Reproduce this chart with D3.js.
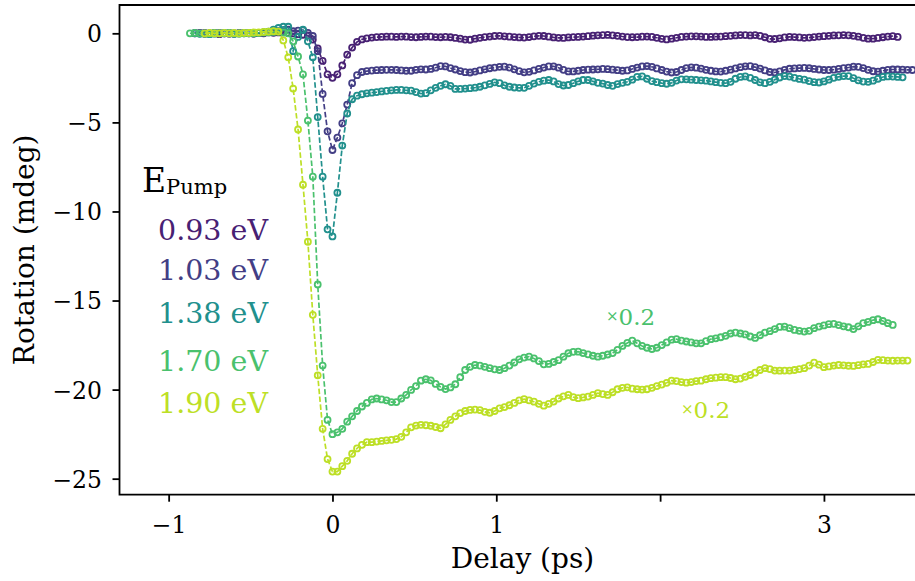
<!DOCTYPE html>
<html>
<head>
<meta charset="utf-8">
<script src="https://cdnjs.cloudflare.com/ajax/libs/d3/7.8.5/d3.min.js"></script>
<style>
  body { margin: 0; background: #fff; }
  svg { display: block; }
</style>
</head>
<body>
<svg></svg>
<script>
// pump-probe delay (ps), shared by every trace
let delays = [
  -0.87, -0.84, -0.81, -0.78, -0.75, -0.72, -0.69, -0.66, -0.63, -0.60,
  -0.57, -0.54, -0.51, -0.48, -0.45, -0.42, -0.39, -0.36, -0.33,
  -0.30, -0.27, -0.24, -0.21, -0.18, -0.15, -0.12, -0.09, -0.06, -0.03,
  0.00, 0.03, 0.06, 0.09, 0.12, 0.15,
  0.18, 0.21, 0.24, 0.27, 0.30, 0.33, 0.36, 0.39, 0.42, 0.45,
  0.48, 0.51, 0.54, 0.57, 0.60, 0.63, 0.66, 0.69, 0.72, 0.75,
  0.78, 0.81, 0.84, 0.87, 0.90, 0.93, 0.96, 0.99, 1.02, 1.05,
  1.08, 1.11, 1.14, 1.17, 1.20, 1.23, 1.26, 1.29, 1.32, 1.35,
  1.38, 1.41, 1.44, 1.47, 1.50, 1.53, 1.56, 1.59, 1.62, 1.65,
  1.68, 1.71, 1.74, 1.77, 1.80, 1.83, 1.86, 1.89, 1.92, 1.95,
  1.98, 2.01, 2.04, 2.07, 2.10, 2.13, 2.16, 2.19, 2.22, 2.25,
  2.28, 2.31, 2.34, 2.37, 2.40, 2.43, 2.46, 2.49, 2.52, 2.55,
  2.58, 2.61, 2.64, 2.67, 2.70, 2.73, 2.76, 2.79, 2.82, 2.85,
  2.88, 2.91, 2.94, 2.97, 3.00, 3.03, 3.06, 3.09, 3.12, 3.15,
  3.18, 3.21, 3.24, 3.27, 3.30, 3.33, 3.36, 3.39, 3.42, 3.45,
  3.48, 3.51, 3.54
]

// rotation (mdeg); 1.70 and 1.90 eV traces are already multiplied by 0.2
let rot093 = [
  null, 0.00, 0.02, -0.03, 0.00, 0.03, -0.05, 0.00, 0.02, -0.02,
  0.00, 0.03, 0.00, -0.02, 0.02, 0.00, 0.05, 0.03, 0.05,
  0.05, 0.02, 0.00, -0.05, -0.08, -0.12, -0.35, -0.85, -1.55, -2.30,
  -2.50, -2.30, -1.80, -1.20, -0.80, -0.48,
  -0.34, -0.28, -0.24, -0.21, -0.20, -0.19, -0.19, -0.20, -0.18, -0.19,
  -0.21, -0.22, -0.20, -0.18, -0.19, -0.21, -0.22, -0.20, -0.22, -0.26,
  -0.30, -0.35, -0.36, -0.30, -0.25, -0.21, -0.18, -0.15, -0.14, -0.17,
  -0.19, -0.21, -0.23, -0.24, -0.21, -0.17, -0.14, -0.15, -0.19, -0.23,
  -0.25, -0.26, -0.23, -0.21, -0.20, -0.18, -0.16, -0.13, -0.11, -0.10,
  -0.09, -0.11, -0.14, -0.18, -0.21, -0.22, -0.21, -0.19, -0.18, -0.20,
  -0.25, -0.31, -0.34, -0.30, -0.25, -0.20, -0.18, -0.17, -0.17, -0.18,
  -0.20, -0.20, -0.19, -0.18, -0.16, -0.14, -0.12, -0.10, -0.10, -0.12,
  -0.10, -0.14, -0.22, -0.31, -0.32, -0.28, -0.23, -0.20, -0.21, -0.23,
  -0.25, -0.24, -0.21, -0.18, -0.16, -0.14, -0.12, -0.11, -0.10, -0.11,
  -0.14, -0.19, -0.25, -0.30, -0.30, -0.26, -0.22, -0.18, -0.16, -0.20,
  null, null, null
]
let rot103 = [
  null, 0.02, 0.00, 0.03, -0.02, 0.00, 0.02, 0.00, -0.03, 0.00,
  0.02, 0.00, 0.03, 0.00, 0.02, 0.05, 0.08, 0.10, 0.12,
  0.12, 0.20, 0.12, 0.15, 0.18, 0.02, -0.15, -1.00, -3.40, -5.50,
  -6.55, -5.85, -5.05, -4.00, -2.80, -2.35,
  -2.17, -2.12, -2.09, -2.07, -2.06, -2.05, -2.05, -2.06, -2.08, -2.10,
  -2.10, -2.05, -2.02, -2.03, -2.00, -1.93, -1.84, -1.86, -1.95, -2.03,
  -2.12, -2.18, -2.20, -2.15, -2.08, -2.02, -1.96, -1.92, -1.88, -1.87,
  -1.92, -2.02, -2.12, -2.19, -2.16, -2.08, -2.00, -1.92, -1.86, -1.85,
  -1.93, -2.05, -2.14, -2.14, -2.10, -2.06, -2.04, -2.03, -2.02, -2.00,
  -2.01, -2.04, -2.07, -2.10, -2.08, -2.00, -1.92, -1.86, -1.84, -1.88,
  -1.97, -2.06, -2.15, -2.20, -2.17, -2.06, -1.95, -1.91, -1.93, -1.98,
  -2.05, -2.10, -2.14, -2.15, -2.10, -2.04, -1.97, -1.90, -1.85, -1.84,
  -1.90, -1.98, -2.08, -2.17, -2.20, -2.14, -2.05, -1.99, -1.97, -1.95,
  -1.94, -1.96, -2.00, -2.03, -2.06, -2.06, -2.04, -2.00, -1.95, -1.92,
  -1.87, -1.88, -1.95, -2.05, -2.13, -2.15, -2.10, -2.05, -2.03, -2.03,
  -2.04, -2.05, -2.06
]
let rot138 = [
  null, 0.00, -0.03, 0.00, -0.05, -0.02, 0.00, 0.02, 0.00, -0.03,
  0.00, 0.02, 0.00, 0.00, 0.03, 0.05, 0.10, 0.20, 0.30,
  0.37, 0.37, -1.00, -0.20, 0.20, -0.45, -1.35, -4.70, -8.05, -11.00,
  -11.40, -8.95, -6.30, -4.50, -3.70, -3.50,
  -3.42, -3.37, -3.33, -3.30, -3.26, -3.23, -3.20, -3.18, -3.18, -3.20,
  -3.22, -3.30, -3.38, -3.36, -3.20, -3.06, -2.95, -2.86, -2.95, -3.12,
  -3.12, -3.10, -3.08, -3.05, -3.00, -2.92, -2.84, -2.75, -2.80, -2.92,
  -3.00, -3.04, -3.06, -3.06, -2.95, -2.82, -2.72, -2.66, -2.62, -2.70,
  -2.85, -2.93, -2.90, -2.80, -2.70, -2.62, -2.62, -2.70, -2.78, -2.82,
  -2.90, -2.95, -2.85, -2.78, -2.72, -2.60, -2.45, -2.42, -2.55, -2.68,
  -2.74, -2.80, -2.83, -2.78, -2.65, -2.58, -2.58, -2.60, -2.62, -2.64,
  -2.66, -2.70, -2.74, -2.78, -2.80, -2.72, -2.55, -2.45, -2.42, -2.50,
  -2.62, -2.75, -2.80, -2.72, -2.60, -2.48, -2.40, -2.43, -2.50, -2.56,
  -2.60, -2.68, -2.74, -2.76, -2.70, -2.60, -2.50, -2.44, -2.40, -2.40,
  -2.52, -2.64, -2.71, -2.72, -2.66, -2.55, -2.45, -2.42, -2.43, -2.45,
  -2.47, null, null
]
let rot170 = [
  0.00, 0.02, 0.00, -0.02, 0.00, 0.02, 0.00, 0.00, 0.03, 0.00,
  -0.02, 0.00, 0.02, 0.00, 0.03, 0.05, 0.06, 0.08, 0.10,
  0.05, 0.00, -0.45, -1.30, -2.30, -4.90, -8.05, -14.10, -18.65, -21.70,
  -22.50, -22.40, -22.20, -21.80, -21.50, -21.20,
  -20.95, -20.75, -20.55, -20.50, -20.55, -20.60, -20.70, -20.70, -20.50, -20.30,
  -20.02, -19.80, -19.50, -19.42, -19.48, -19.68, -19.85, -19.97, -19.88, -19.70,
  -19.30, -18.90, -18.72, -18.62, -18.65, -18.72, -18.80, -18.86, -18.90, -18.80,
  -18.65, -18.48, -18.30, -18.20, -18.15, -18.25, -18.40, -18.58, -18.56, -18.45,
  -18.35, -18.15, -17.96, -17.88, -17.87, -17.95, -18.02, -18.10, -18.15, -18.10,
  -18.03, -17.95, -17.77, -17.55, -17.38, -17.25, -17.40, -17.55, -17.65, -17.72,
  -17.65, -17.50, -17.35, -17.20, -17.17, -17.25, -17.30, -17.35, -17.40, -17.40,
  -17.28, -17.17, -17.12, -17.06, -16.98, -16.85, -16.80, -16.85, -16.90, -17.02,
  -17.10, -16.95, -16.80, -16.72, -16.60, -16.48, -16.47, -16.55, -16.65, -16.70,
  -16.74, -16.70, -16.55, -16.46, -16.40, -16.33, -16.31, -16.38, -16.45, -16.50,
  -16.60, -16.45, -16.27, -16.20, -16.10, -16.05, -16.15, -16.27, -16.37, null,
  null, null, null
]
let rot190 = [
  null, null, null, 0.00, 0.02, 0.00, 0.00, 0.03, 0.00, 0.02,
  0.00, 0.03, 0.02, 0.05, 0.05, 0.08, 0.10, 0.12, 0.10,
  -0.40, -1.35, -3.10, -5.40, -8.50, -11.70, -15.80, -19.20, -22.20, -23.90,
  -24.60, -24.60, -24.30, -24.00, -23.60, -23.30,
  -23.10, -22.95, -22.95, -22.92, -22.88, -22.85, -22.82, -22.78, -22.65, -22.40,
  -22.12, -22.02, -21.98, -22.00, -22.03, -22.10, -22.17, -21.95, -21.70, -21.50,
  -21.32, -21.20, -21.14, -21.12, -21.15, -21.25, -21.30, -21.20, -21.05, -20.98,
  -20.88, -20.75, -20.60, -20.54, -20.60, -20.68, -20.80, -20.90, -20.80, -20.67,
  -20.50, -20.38, -20.30, -20.42, -20.48, -20.44, -20.39, -20.30, -20.20, -20.25,
  -20.30, -20.15, -19.98, -19.90, -19.87, -19.95, -19.98, -20.00, -19.98, -19.90,
  -19.80, -19.72, -19.62, -19.50, -19.52, -19.58, -19.61, -19.58, -19.52, -19.50,
  -19.42, -19.36, -19.33, -19.30, -19.30, -19.35, -19.42, -19.38, -19.28, -19.18,
  -19.05, -18.90, -18.80, -18.85, -18.93, -18.94, -18.93, -18.93, -18.90, -18.85,
  -18.80, -18.65, -18.49, -18.60, -18.74, -18.70, -18.65, -18.62, -18.64, -18.66,
  -18.67, -18.63, -18.58, -18.56, -18.45, -18.33, -18.35, -18.37, -18.38, -18.37,
  -18.37, -18.37, null
]

let pumpLabels = ['0.93 eV', '1.03 eV', '1.38 eV', '1.70 eV', '1.90 eV']
let seriesValues = [rot093, rot103, rot138, rot170, rot190]
let colors = ['#482173', '#433e85', '#21908d', '#4ac16d', '#bddf26']

let xTicks = [-1, 0, 1, 2, 3]
let xTickLabels = ['\u22121', '0', '1', '', '3']
let yTicks = [0, -5, -10, -15, -20, -25]

let width = 915
let height = 581
let plotLeft = 119.5
let plotRight = 925.5
let plotTop = 5
let plotBottom = 494.7

let svg = d3.select('svg')
    .attr('width', width)
    .attr('height', height)

let xScale = d3.scaleLinear().domain([-1.3, 3.62]).range([plotLeft, plotRight])
let yScale = d3.scaleLinear().domain([-25.9, 1.59]).range([plotBottom, plotTop])

let serif = 'DejaVu Serif, serif'

// traces: dashed line with open circle markers
seriesValues.forEach((vals, i) => {
    let pts = delays.map((d, j) => [d, vals[j]]).filter(p => p[1] !== null)
    let g = svg.append('g')
    g.append('path')
        .datum(pts)
        .attr('fill', 'none')
        .attr('stroke', colors[i])
        .attr('stroke-width', 1.7)
        .attr('stroke-dasharray', '5.5,2.4')
        .attr('d', d3.line().x(p => xScale(p[0])).y(p => yScale(p[1])))
    g.selectAll('circle')
        .data(pts)
        .enter()
        .append('circle')
        .attr('cx', p => xScale(p[0]))
        .attr('cy', p => yScale(p[1]))
        .attr('r', 3)
        .attr('fill', 'none')
        .attr('stroke', colors[i])
        .attr('stroke-width', 1.8)
})

// axes
let xAxis = d3.axisBottom(xScale)
    .tickValues(xTicks)
    .tickFormat((d, i) => xTickLabels[i])
    .tickSize(7)
    .tickSizeOuter(0)

let yAxis = d3.axisLeft(yScale)
    .tickValues(yTicks)
    .tickFormat(d => d < 0 ? '\u2212' + Math.abs(d) : String(d))
    .tickSize(7)
    .tickSizeOuter(0)

let gx = svg.append('g')
    .attr('transform', 'translate(0,' + plotBottom + ')')
    .call(xAxis)
gx.select('.domain').remove()
gx.selectAll('line').attr('stroke', '#000').attr('stroke-width', 1.8)
gx.selectAll('text')
    .attr('y', 38.5)
    .attr('dy', null)
    .attr('fill', '#000')
    .style('font-family', serif)
    .style('font-size', '23.5px')

let gy = svg.append('g')
    .attr('transform', 'translate(' + plotLeft + ',0)')
    .call(yAxis)
gy.select('.domain').remove()
gy.selectAll('line').attr('stroke', '#000').attr('stroke-width', 1.8)
gy.selectAll('text')
    .attr('x', -17.5)
    .attr('dy', '0.36em')
    .attr('fill', '#000')
    .style('font-family', serif)
    .style('font-size', '23.5px')

// spines (the right one falls outside the window)
svg.append('path')
    .attr('fill', 'none')
    .attr('stroke', '#000')
    .attr('stroke-width', 1.8)
    .attr('d', 'M' + plotRight + ',' + plotTop + 'H' + plotLeft + 'V' + plotBottom + 'H' + plotRight)

// axis labels
svg.append('text')
    .attr('x', (plotLeft + plotRight) / 2)
    .attr('y', 568)
    .attr('text-anchor', 'middle')
    .style('font-family', serif)
    .style('font-size', '28px')
    .text('Delay (ps)')

svg.append('text')
    .attr('transform', 'translate(33.5,' + (plotTop + plotBottom) / 2 + ') rotate(-90)')
    .attr('text-anchor', 'middle')
    .style('font-family', serif)
    .style('font-size', '28px')
    .text('Rotation (mdeg)')

// legend
let ep = svg.append('text')
    .attr('x', 142)
    .attr('y', 192)
    .style('font-family', serif)
    .style('font-size', '33px')
    .text('E')
ep.append('tspan')
    .attr('dy', 2)
    .style('font-size', '21px')
    .text('Pump')

let legendY = [240, 280, 323, 371, 413]
pumpLabels.forEach((lab, i) => {
    svg.append('text')
        .attr('x', 158)
        .attr('y', legendY[i])
        .attr('fill', colors[i])
        .style('font-family', serif)
        .style('font-size', '28.5px')
        .text(lab)
})

// scale factor notes
let notes = [
    {x: 606, y: 325, c: colors[3]},
    {x: 681, y: 418, c: colors[4]}
]
notes.forEach(n => {
    let t = svg.append('text')
        .attr('x', n.x)
        .attr('y', n.y)
        .attr('fill', n.c)
        .style('font-family', serif)
        .style('font-size', '23px')
    t.append('tspan').attr('dy', -4).style('font-size', '15px').text('\u00d7')
    t.append('tspan').attr('dy', 4).text('0.2')
})
</script>
</body>
</html>
